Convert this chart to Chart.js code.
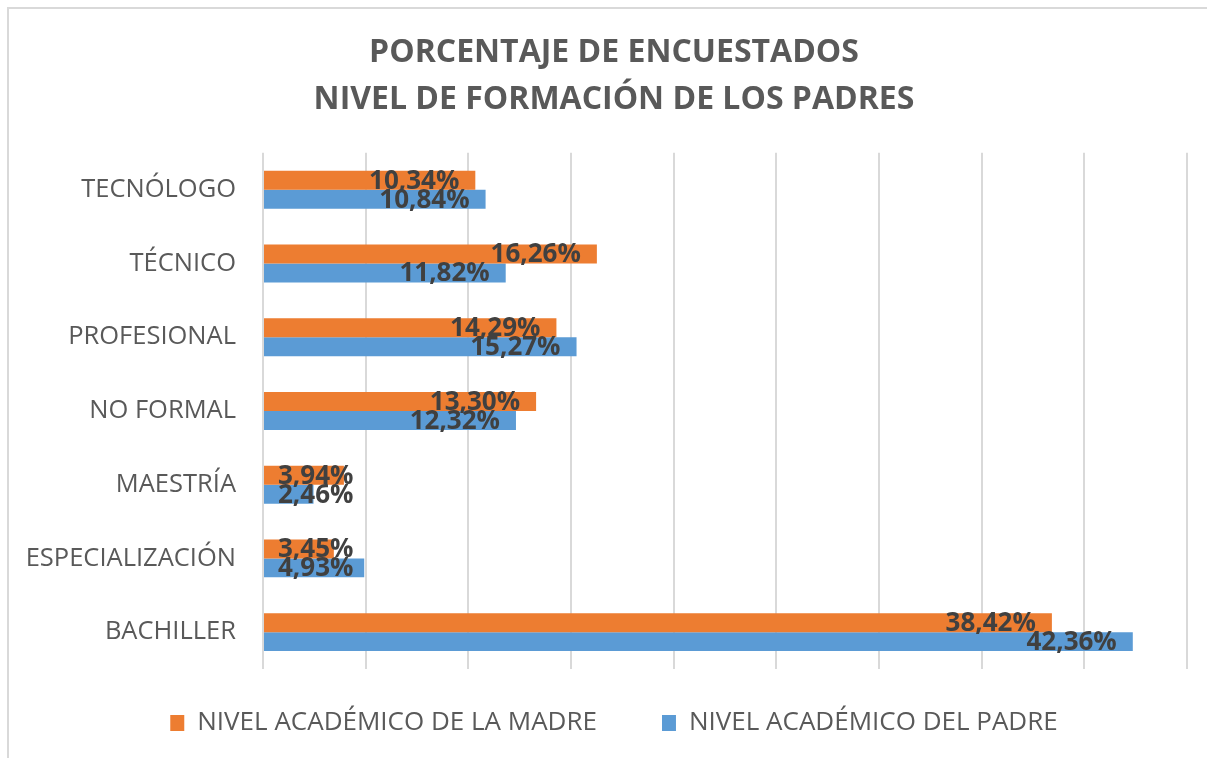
<!DOCTYPE html>
<html>
<head>
<meta charset="utf-8">
<script src="https://cdn.jsdelivr.net/npm/chart.js@4"></script>
<style>
  html, body { margin: 0; padding: 0; background: #fff; overflow: hidden; }
  #frame { position: absolute; left: 7px; top: 7px; width: 1300px; height: 900px; border: 2px solid #D9D9D9; }
  #wrap { position: absolute; left: 0; top: 0; width: 1228px; height: 758px; }
</style>
</head>
<body>
<div id="frame"></div>
<div id="wrap"><canvas id="chart"></canvas></div>
<script>
// Data
const categories = ['TECNÓLOGO', 'TÉCNICO', 'PROFESIONAL', 'NO FORMAL', 'MAESTRÍA', 'ESPECIALIZACIÓN', 'BACHILLER'];
const madre = [10.34, 16.26, 14.29, 13.30, 3.94, 3.45, 38.42];
const padre = [10.84, 11.82, 15.27, 12.32, 2.46, 4.93, 42.36];
const seriesNames = ['NIVEL ACADÉMICO DE LA MADRE', 'NIVEL ACADÉMICO DEL PADRE'];

const fmt = v => v.toFixed(2).replace('.', ',') + '%';

// draws the value labels at the inside end of each bar
const valueLabels = {
  id: 'valueLabels',
  afterDatasetsDraw(chart) {
    const ctx = chart.ctx;
    const left = chart.chartArea.left;
    ctx.save();
    ctx.font = 'bold 26px "Open Sans"';
    ctx.fillStyle = '#404040';
    ctx.textAlign = 'right';
    ctx.textBaseline = 'middle';
    chart.data.datasets.forEach((ds, i) => {
      chart.getDatasetMeta(i).data.forEach((bar, j) => {
        const txt = fmt(ds.data[j]);
        const w = ctx.measureText(txt).width;
        const x = Math.max(bar.x - 16, left + 15 + w);
        ctx.fillText(txt, x, bar.y + 1);
      });
    });
    ctx.restore();
  }
};

// legend padding is wide (item spacing), pull the row back up a bit
const legendNudge = {
  id: 'legendNudge',
  afterLayout(chart) {
    chart.legend.top -= 24;
    chart.legend.bottom -= 24;
  }
};

new Chart(document.getElementById('chart'), {
  type: 'bar',
  data: {
    labels: categories,
    datasets: [
      { label: seriesNames[0], data: madre, backgroundColor: '#ED7D31' },
      { label: seriesNames[1], data: padre, backgroundColor: '#5B9BD5' }
    ]
  },
  options: {
    indexAxis: 'y',
    responsive: true,
    maintainAspectRatio: false,
    animation: false,
    datasets: { bar: { categoryPercentage: 0.515, barPercentage: 1 } },
    layout: { padding: 0 },
    scales: {
      x: {
        min: 0, max: 45,
        ticks: { display: false, stepSize: 5 },
        grid: { color: '#D9D9D9', lineWidth: 2, drawTicks: false },
        border: { display: false }
      },
      y: {
        ticks: { color: '#595959', font: { family: 'Open Sans', size: 25.5 }, padding: 27 },
        grid: { display: false, drawTicks: false },
        border: { display: false },
        afterFit(s) { s.width = 263; }
      },
      y2: {
        type: 'linear',
        position: 'right',
        ticks: { display: false },
        grid: { display: false, drawTicks: false },
        border: { display: false },
        afterFit(s) { s.width = 41; }
      }
    },
    plugins: {
      title: {
        display: true,
        text: ['PORCENTAJE DE ENCUESTADOS', 'NIVEL DE FORMACIÓN DE LOS PADRES'],
        color: '#595959',
        font: { family: 'Open Sans', size: 32, weight: 'bold', lineHeight: 1.45 },
        padding: { top: 30, bottom: 30 }
      },
      legend: {
        position: 'bottom',
        maxHeight: 89,
        labels: {
          color: '#595959',
          font: { family: 'Open Sans', size: 26 },
          boxWidth: 14, boxHeight: 16,
          padding: 65
        }
      },
      tooltip: { enabled: false }
    }
  },
  plugins: [valueLabels, legendNudge]
});
</script>
</body>
</html>
